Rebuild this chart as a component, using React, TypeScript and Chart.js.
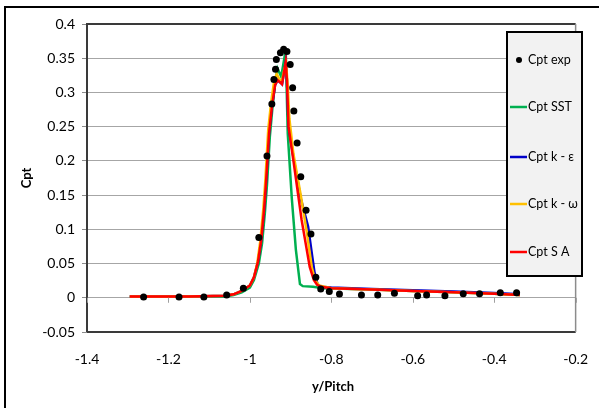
import React, { useEffect, useRef } from "react";
import { Chart, registerables } from "chart.js";
Chart.register(...registerables);

const FONT = "Lato, 'Open Sans', 'DejaVu Sans', sans-serif";

const xTicks = [-1.4, -1.2, -1, -0.8, -0.6, -0.4, -0.2];
const yTicks = [-0.05, 0, 0.05, 0.1, 0.15, 0.2, 0.25, 0.3, 0.35, 0.4];

const legendLabels = ["Cpt exp", "Cpt SST", "Cpt k - ε", "Cpt k - ω", "Cpt S A"];
const seriesColors = ["#000000", "#00b050", "#0000c8", "#ffc000", "#ff0000"];

const expX = [-1.261, -1.174, -1.113, -1.057, -1.016, -0.978, -0.958, -0.946, -0.941, -0.937, -0.935, -0.925, -0.917, -0.909, -0.901, -0.895, -0.892, -0.884, -0.875, -0.862, -0.85, -0.838, -0.826, -0.805, -0.78, -0.726, -0.686, -0.645, -0.588, -0.566, -0.521, -0.476, -0.436, -0.385, -0.345];
const expY = [0.001, 0.001, 0.001, 0.004, 0.014, 0.088, 0.207, 0.283, 0.319, 0.334, 0.348, 0.358, 0.363, 0.36, 0.341, 0.307, 0.273, 0.226, 0.177, 0.128, 0.093, 0.03, 0.013, 0.009, 0.0055, 0.004, 0.004, 0.0066, 0.003, 0.004, 0.003, 0.006, 0.006, 0.0075, 0.0075];

const sstX = [-1.295, -1.15, -1.06, -1.04, -1.02, -1.0, -0.99, -0.978, -0.97, -0.963, -0.958, -0.951, -0.945, -0.939, -0.932, -0.923, -0.912, -0.907, -0.897, -0.887, -0.877, -0.87, -0.845, -0.82, -0.7, -0.6, -0.5, -0.4, -0.337];
const sstY = [0.002, 0.002, 0.002, 0.004, 0.008, 0.015, 0.026, 0.05, 0.08, 0.125, 0.165, 0.235, 0.275, 0.31, 0.335, 0.323, 0.362, 0.24, 0.145, 0.07, 0.02, 0.017, 0.016, 0.014, 0.012, 0.01, 0.008, 0.006, 0.004];

const keX = [-1.295, -1.15, -1.06, -1.04, -1.02, -1.0, -0.99, -0.98, -0.972, -0.965, -0.96, -0.953, -0.946, -0.938, -0.932, -0.926, -0.921, -0.916, -0.912, -0.909, -0.905, -0.893, -0.875, -0.857, -0.848, -0.841, -0.834, -0.826, -0.8, -0.7, -0.6, -0.5, -0.4, -0.337];
const keY = [0.002, 0.002, 0.003, 0.005, 0.01, 0.018, 0.03, 0.053, 0.085, 0.13, 0.172, 0.24, 0.279, 0.311, 0.318, 0.315, 0.312, 0.33, 0.345, 0.318, 0.25, 0.205, 0.145, 0.104, 0.065, 0.036, 0.02, 0.016, 0.015, 0.013, 0.011, 0.009, 0.007, 0.005];

const kwX = [-1.295, -1.15, -1.06, -1.04, -1.02, -1.0, -0.99, -0.982, -0.974, -0.967, -0.962, -0.955, -0.948, -0.94, -0.934, -0.927, -0.921, -0.915, -0.911, -0.907, -0.903, -0.893, -0.875, -0.86, -0.848, -0.84, -0.83, -0.8, -0.7, -0.6, -0.5, -0.4, -0.337];
const kwY = [0.002, 0.002, 0.003, 0.005, 0.01, 0.018, 0.03, 0.05, 0.085, 0.13, 0.172, 0.245, 0.285, 0.318, 0.327, 0.318, 0.318, 0.335, 0.342, 0.31, 0.262, 0.21, 0.15, 0.095, 0.045, 0.026, 0.018, 0.014, 0.012, 0.01, 0.008, 0.006, 0.004];

const saX = [-1.295, -1.15, -1.06, -1.04, -1.02, -1.0, -0.99, -0.98, -0.972, -0.965, -0.96, -0.953, -0.946, -0.938, -0.932, -0.926, -0.921, -0.916, -0.912, -0.909, -0.905, -0.893, -0.873, -0.853, -0.843, -0.835, -0.825, -0.8, -0.7, -0.6, -0.5, -0.4, -0.337];
const saY = [0.002, 0.002, 0.003, 0.005, 0.01, 0.018, 0.03, 0.053, 0.085, 0.13, 0.172, 0.24, 0.279, 0.311, 0.318, 0.315, 0.312, 0.33, 0.345, 0.318, 0.25, 0.2, 0.114, 0.045, 0.026, 0.019, 0.016, 0.014, 0.012, 0.01, 0.008, 0.006, 0.004];

const pts = (xs: number[], ys: number[]) => xs.map((x, i) => ({ x, y: ys[i] }));
const fmt = (v: number) => String(Math.round(v * 100) / 100);

const decorPlugin = {
  id: "decor",
  beforeDraw(chart: any) {
    const { ctx } = chart;
    ctx.save();
    ctx.fillStyle = "#ffffff";
    ctx.fillRect(0, 0, chart.width, chart.height);
    ctx.strokeStyle = "#000000";
    ctx.lineWidth = 2;
    ctx.beginPath();
    ctx.moveTo(5, 420);
    ctx.lineTo(5, 7);
    ctx.lineTo(610, 7);
    ctx.stroke();
    ctx.restore();
  },
  afterDatasetsDraw(chart: any) {
    const { ctx, chartArea: a, scales } = chart;
    ctx.save();
    ctx.strokeStyle = "#3a3a3a";
    ctx.lineWidth = 2;
    ctx.beginPath();
    ctx.moveTo(a.left, a.bottom);
    ctx.lineTo(a.left, a.top);
    ctx.lineTo(a.right, a.top);
    ctx.stroke();
    ctx.beginPath();
    ctx.moveTo(a.left, a.bottom);
    ctx.lineTo(a.right, a.bottom);
    ctx.stroke();
    ctx.strokeStyle = "#8c8c8c";
    ctx.lineWidth = 1.5;
    ctx.beginPath();
    ctx.moveTo(a.right, a.top);
    ctx.lineTo(a.right, a.bottom);
    ctx.stroke();
    const y0 = scales.y.getPixelForValue(0);
    ctx.strokeStyle = "#a0a0a0";
    ctx.lineWidth = 1;
    xTicks.forEach((t) => {
      const px = Math.round(scales.x.getPixelForValue(t)) + 0.5;
      ctx.beginPath();
      ctx.moveTo(px, y0);
      ctx.lineTo(px, y0 + 5);
      ctx.stroke();
    });
    ctx.restore();
  },
  afterDraw(chart: any) {
    const { ctx, chartArea: a } = chart;
    ctx.save();
    ctx.fillStyle = "#000000";
    ctx.font = `bold 13px ${FONT}`;
    ctx.textAlign = "center";
    ctx.textBaseline = "middle";
    ctx.fillText("y/Pitch", 333, 387);
    ctx.translate(27, (a.top + a.bottom) / 2);
    ctx.rotate(-Math.PI / 2);
    ctx.fillText("Cpt", 0, 0);
    ctx.restore();

    ctx.save();
    const lx = 507, ly = 32, lw = 75, lh = 244;
    ctx.fillStyle = "#f2f2f2";
    ctx.fillRect(lx, ly, lw, lh);
    ctx.strokeStyle = "#000000";
    ctx.lineWidth = 2;
    ctx.strokeRect(lx, ly, lw, lh);
    const rows = [60, 107, 157, 204, 252];
    ctx.font = `12.5px ${FONT}`;
    ctx.textAlign = "left";
    ctx.textBaseline = "middle";
    legendLabels.forEach((lab, i) => {
      const y = rows[i];
      if (i === 0) {
        ctx.fillStyle = "#000";
        ctx.beginPath();
        ctx.arc(519, y, 3, 0, Math.PI * 2);
        ctx.fill();
      } else {
        ctx.strokeStyle = seriesColors[i];
        ctx.lineWidth = 2.5;
        ctx.beginPath();
        ctx.moveTo(510, y);
        ctx.lineTo(527, y);
        ctx.stroke();
      }
      ctx.fillStyle = "#000";
      ctx.fillText(lab, 528, y);
    });
    ctx.restore();
  },
};

export default function App() {
  const ref = useRef<HTMLCanvasElement | null>(null);
  useEffect(() => {
    if (!ref.current) return;
    const line = (label: string, xs: number[], ys: number[], color: string, order: number) => ({
      label,
      data: pts(xs, ys),
      showLine: true,
      borderColor: color,
      backgroundColor: color,
      borderWidth: 2.5,
      pointRadius: 0,
      tension: 0,
      order,
    });
    const chart = new Chart(ref.current, {
      type: "scatter",
      data: {
        datasets: [
          {
            label: legendLabels[0],
            data: pts(expX, expY),
            showLine: false,
            pointRadius: 3.5,
            pointBorderWidth: 0,
            backgroundColor: "#000",
            borderColor: "#000",
            order: 0,
          } as any,
          line(legendLabels[1], sstX, sstY, seriesColors[1], 4),
          line(legendLabels[2], keX, keY, seriesColors[2], 3),
          line(legendLabels[3], kwX, kwY, seriesColors[3], 2),
          line(legendLabels[4], saX, saY, seriesColors[4], 1),
        ],
      },
      options: {
        animation: false,
        responsive: false,
        devicePixelRatio: 1,
        layout: { padding: { top: 24, right: 12, left: 0, bottom: 0 } },
        plugins: { legend: { display: false }, tooltip: { enabled: false } },
        scales: {
          x: {
            type: "linear",
            min: -1.4,
            max: -0.2,
            afterBuildTicks: (s: any) => {
              s.ticks = xTicks.map((v) => ({ value: v }));
            },
            ticks: {
              callback: (v: any) => fmt(Number(v)),
              font: { family: FONT, size: 14 },
              color: "#000",
              padding: 11,
              maxRotation: 0,
            },
            grid: { display: false },
            border: { display: false },
            afterFit: (s: any) => {
              s.height = 76;
            },
          },
          y: {
            type: "linear",
            min: -0.05,
            max: 0.4,
            afterBuildTicks: (s: any) => {
              s.ticks = yTicks.map((v) => ({ value: v }));
            },
            ticks: {
              callback: (v: any) => fmt(Number(v)),
              font: { family: FONT, size: 14 },
              color: "#000",
              padding: 7,
            },
            grid: { color: "#a6a6a6", lineWidth: 1, tickLength: 5, tickColor: "#8c8c8c" },
            border: { display: false },
            afterFit: (s: any) => {
              s.width = 87;
            },
          },
        },
      } as any,
      plugins: [decorPlugin],
    });
    return () => chart.destroy();
  }, []);
  return (
    <div style={{ position: "absolute", left: 0, top: 0, width: 599, height: 408 }}>
      <canvas ref={ref} width={599} height={408} style={{ width: 599, height: 408, display: "block" }} />
    </div>
  );
}
